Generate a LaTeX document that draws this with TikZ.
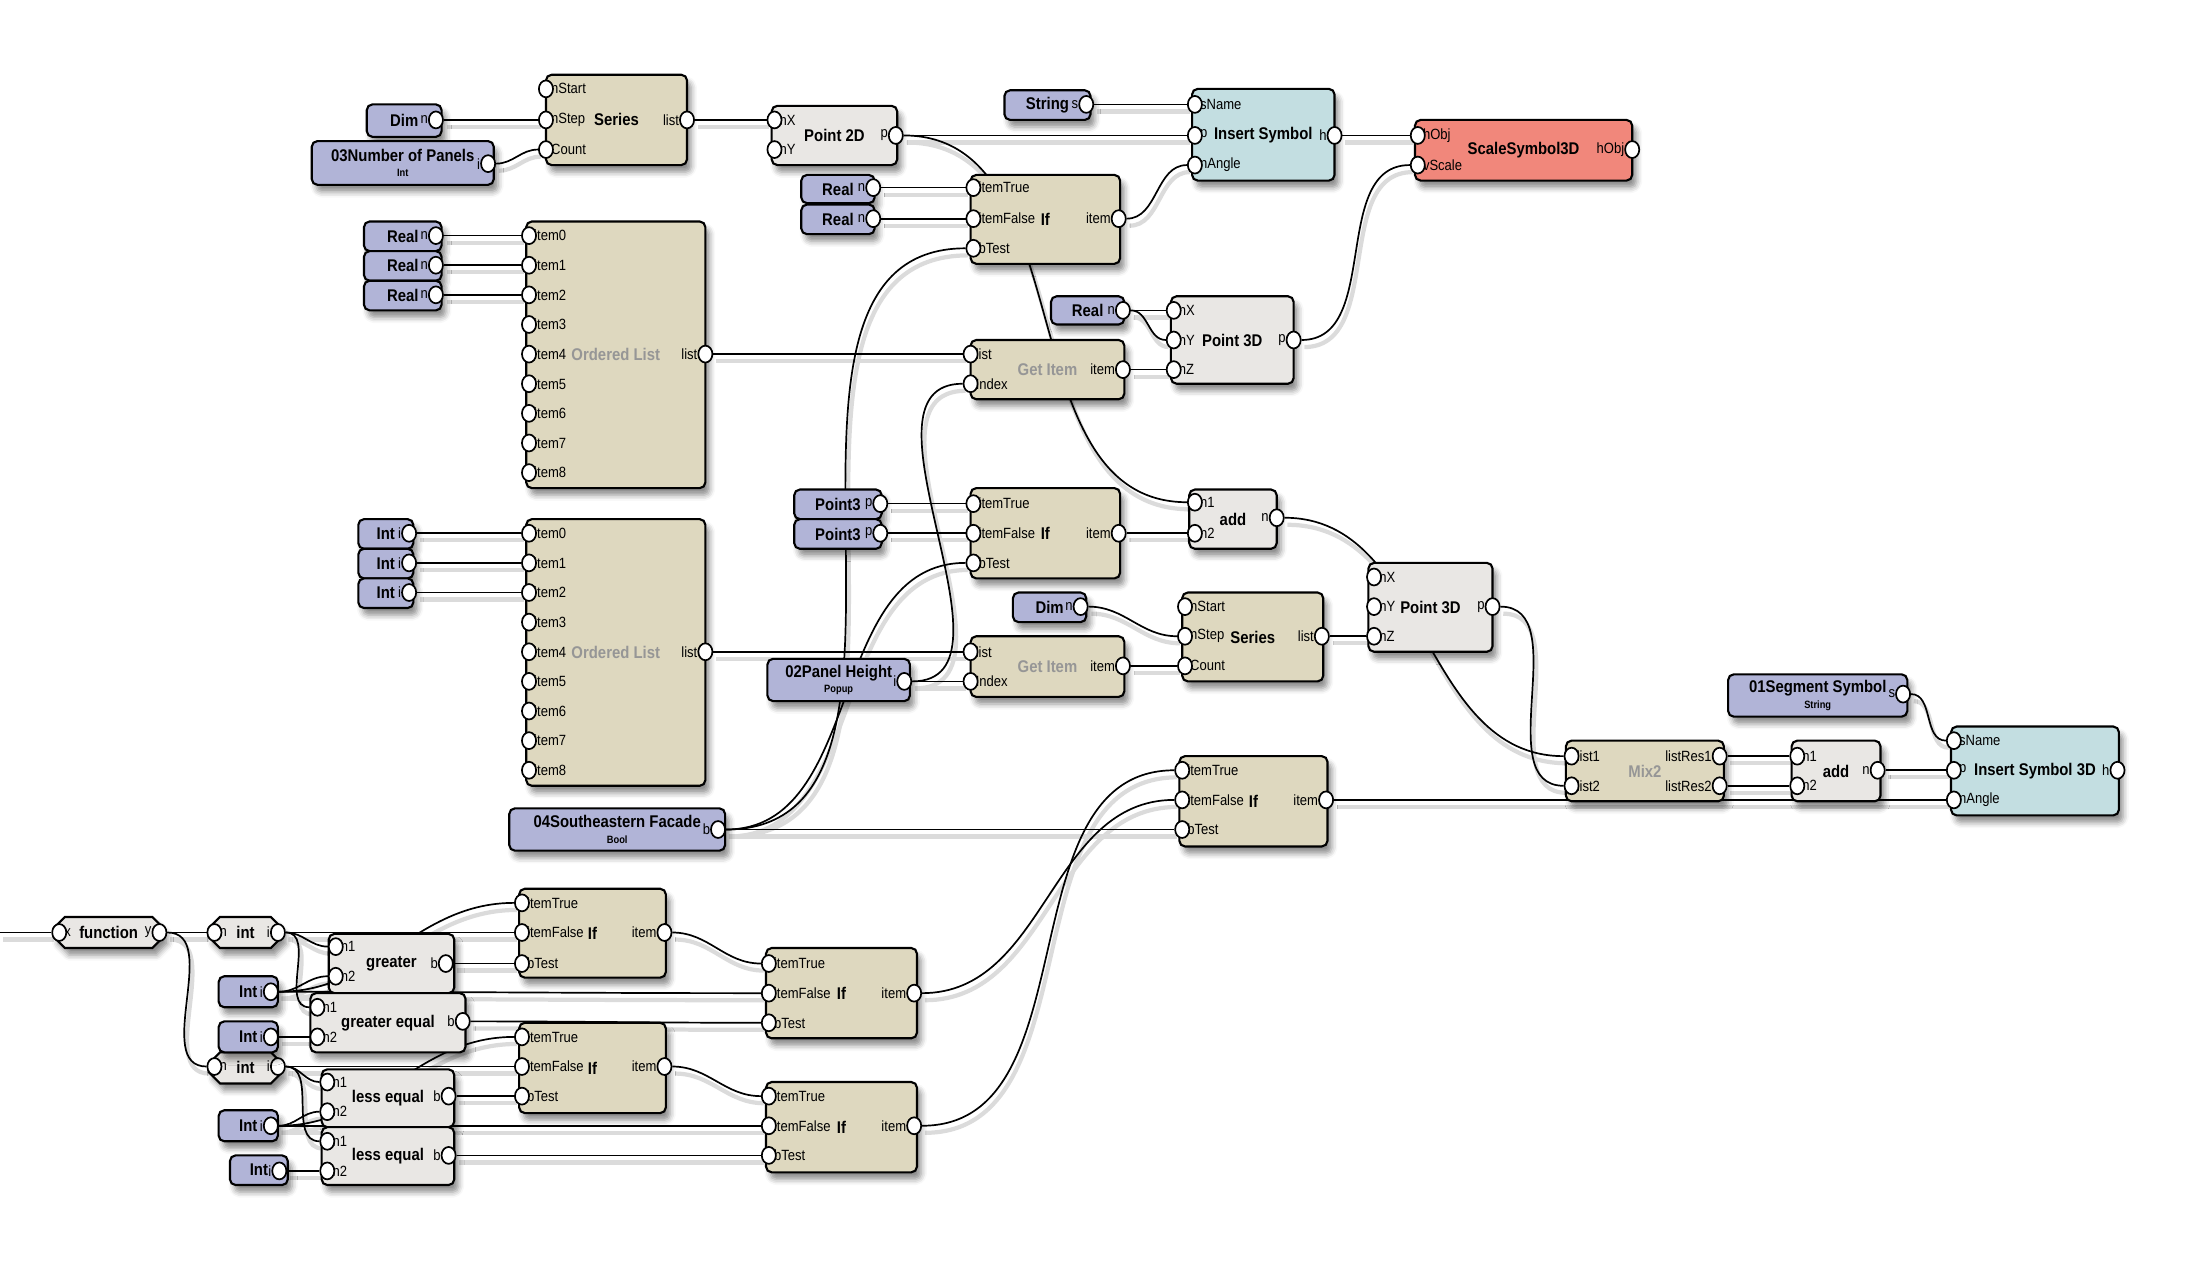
\documentclass[tikz,border=0pt]{standalone}
\usepackage{fontspec}
\setmainfont{Liberation Sans}[FakeStretch=0.88]
\usetikzlibrary{shapes.geometric,shapes.misc,shadows.blur,backgrounds}

\definecolor{tanc}{RGB}{222,216,191}
\definecolor{gryc}{RGB}{233,231,228}
\definecolor{bluc}{RGB}{177,180,215}
\definecolor{cync}{RGB}{195,222,225}
\definecolor{salc}{RGB}{241,135,123}
\definecolor{fadec}{RGB}{150,150,150}

\tikzset{
  box/.style={draw=black, line width=1.5pt, rounded corners=4pt, inner sep=0pt, align=center,
    font=\fontsize{12}{12}\selectfont\bfseries,
    blur shadow={shadow xshift=3pt, shadow yshift=-5pt, shadow blur radius=4pt, shadow opacity=45}},
  tanbox/.style={box, fill=tanc},
  grybox/.style={box, fill=gryc},
  inbox/.style={box, fill=bluc},
  cynbox/.style={box, fill=cync},
  salbox/.style={box, fill=salc},
  chbox/.style={grybox, sharp corners, chamfered rectangle, chamfered rectangle xsep=5pt},
  faded/.style={text=fadec},
  port/.style={ellipse, draw=black, fill=white, line width=1.2pt, minimum width=10pt, minimum height=12pt, inner sep=0pt},
  plbl/.style={font=\fontsize{10.5}{10.5}\selectfont, inner sep=0pt},
  wire/.style={draw=black, line width=1.2pt},
  wshadow/.style={draw=black!14, line width=3pt, transform canvas={shift={(2pt,-5pt)}}}
}

\newcommand\blk[7]{\node[#2, minimum width=#5-#3, minimum height=#6-#4] (#1) at ({(#3+#5)/2},{(#4+#6)/2}) {#7};}
\newcommand\ip[4]{\node[plbl, anchor=west] at (#3+3.5,#4) {#2}; \node[port] (#1-#2) at (#3,#4) {};}
\newcommand\op[4]{\node[plbl, anchor=east] at (#3-5.5,#4) {#2}; \node[port] (#1-#2) at (#3,#4) {};}
\newcommand\sublbl[1]{{\fontsize{7.5}{8}\selectfont #1}}

\def\wirelist{dim1-n/ser1-nStep, nop-i/ser1-Count, ser1-list/pt2-nX, pt2-p/ins-p, pt2-p/add1-n1,
  str1-s/ins-sName, rl1-n/if1-itemTrue, rl2-n/if1-itemFalse, if1-item/ins-nAngle, ins-h/scl-hObj,
  pt3a-p/scl-vScale, rl6-n/pt3a-nX, rl6-n/pt3a-nY, gi1-item/pt3a-nZ,
  rl3-n/ol1-item0, rl4-n/ol1-item1, rl5-n/ol1-item2, ol1-list/gi1-list,
  ph-i/gi1-Index, ph-i/gi2-Index, fac-b/if1-bTest, fac-b/if2-bTest, fac-b/if3-bTest,
  in1-i/ol2-item0, in2-i/ol2-item1, in3-i/ol2-item2, ol2-list/gi2-list,
  pp1-p/if2-itemTrue, pp2-p/if2-itemFalse, if2-item/add1-n2, add1-n/mix-list1,
  dim2-n/ser2-nStep, gi2-item/ser2-Count, ser2-list/pt3b-nZ, pt3b-p/mix-list2,
  mix-listRes1/add2-n1, mix-listRes2/add2-n2, add2-n/ins3-p, seg-s/ins3-sName, if3-item/ins3-nAngle,
  ifc-item/if3-itemFalse, ifd-item/if3-itemTrue,
  lft/fun-x, fun-y/int1-n, fun-y/int2-n,
  int1-i/gt-n1, int1-i/ge-n1, int1-i/ifa-itemFalse,
  iv1-i/gt-n2, iv1-i/ifa-itemTrue, iv1-i/ifc-itemFalse, iv2-i/ge-n2,
  gt-b/ifa-bTest, ge-b/ifc-bTest,
  int2-i/le1-n1, int2-i/le2-n1, int2-i/ifb-itemFalse,
  iv3-i/le1-n2, iv3-i/ifb-itemTrue, iv3-i/ifd-itemFalse, iv4-i/le2-n2,
  le1-b/ifb-bTest, le2-b/ifd-bTest, ifa-item/ifc-itemTrue, ifb-item/ifd-itemTrue}

\begin{document}
\begin{tikzpicture}[x=1pt, y=-1pt]
  \useasboundingbox (0,0) rectangle (1568,906);

  % top row
  \blk{dim1}{inbox}{260}{74}{313}{97}{Dim}
  \op{dim1}{n}{309}{85}
  \blk{nop}{inbox}{221}{100}{350}{131}{03Number of Panels\\[-1pt]\sublbl{Int}}
  \op{nop}{i}{346}{116}
  \blk{ser1}{tanbox}{387}{53}{487}{117}{Series}
  \ip{ser1}{nStart}{387}{63}
  \ip{ser1}{nStep}{387}{85}
  \ip{ser1}{Count}{387}{106}
  \op{ser1}{list}{487}{85}
  \blk{pt2}{grybox}{547}{75}{636}{117}{Point 2D}
  \ip{pt2}{nX}{549}{85}
  \ip{pt2}{nY}{549}{106}
  \op{pt2}{p}{635}{96}
  \blk{str1}{inbox}{712}{64}{773}{85}{String}
  \op{str1}{s}{770}{74}
  \blk{ins}{cynbox}{845}{63}{946}{128}{Insert Symbol}
  \ip{ins}{sName}{847}{74}
  \ip{ins}{p}{847}{96}
  \ip{ins}{nAngle}{847}{117}
  \op{ins}{h}{946}{96}
  \blk{scl}{salbox}{1003}{85}{1157}{128}{ScaleSymbol3D}
  \ip{scl}{hObj}{1005}{96}
  \ip{scl}{vScale}{1005}{117}
  \node[plbl, anchor=east] at (1151.5,106) {hObj};
  \node[port] (scl-out) at (1157,106) {};

  \blk{rl1}{inbox}{568}{124}{620}{144}{Real}
  \op{rl1}{n}{619}{133}
  \blk{rl2}{inbox}{568}{145}{620}{166}{Real}
  \op{rl2}{n}{619}{155}
  \blk{if1}{tanbox}{688}{124}{794}{187}{If}
  \ip{if1}{itemTrue}{690}{133}
  \ip{if1}{itemFalse}{690}{155}
  \ip{if1}{bTest}{690}{176}
  \op{if1}{item}{793}{155}

  \blk{rl3}{inbox}{258}{157}{313}{178}{Real}
  \op{rl3}{n}{309}{167}
  \blk{rl4}{inbox}{258}{178}{313}{199}{Real}
  \op{rl4}{n}{309}{188}
  \blk{rl5}{inbox}{258}{199}{313}{220}{Real}
  \op{rl5}{n}{309}{209}
  \blk{ol1}{tanbox,faded}{373}{157}{500}{346}{Ordered List}
  \foreach \k in {0,...,8} {\ip{ol1}{item\k}{375}{167+21*\k}}
  \op{ol1}{list}{500}{251}

  \blk{rl6}{inbox}{745}{210}{797}{230}{Real}
  \op{rl6}{n}{796}{220}
  \blk{pt3a}{grybox}{830}{210}{917}{272}{Point 3D}
  \ip{pt3a}{nX}{832}{220}
  \ip{pt3a}{nY}{832}{241}
  \ip{pt3a}{nZ}{832}{262}
  \op{pt3a}{p}{917}{241}
  \blk{gi1}{tanbox,faded}{688}{241}{797}{283}{Get Item}
  \ip{gi1}{list}{688}{251}
  \ip{gi1}{Index}{688}{272}
  \op{gi1}{item}{796}{262}

  % middle
  \blk{in1}{inbox}{254}{368}{293}{389}{Int}
  \op{in1}{i}{290}{378}
  \blk{in2}{inbox}{254}{389}{293}{410}{Int}
  \op{in2}{i}{290}{399}
  \blk{in3}{inbox}{254}{410}{293}{431}{Int}
  \op{in3}{i}{290}{420}
  \blk{ol2}{tanbox,faded}{373}{368}{500}{557}{Ordered List}
  \foreach \k in {0,...,8} {\ip{ol2}{item\k}{375}{378+21*\k}}
  \op{ol2}{list}{500}{462}

  \blk{pp1}{inbox}{563}{347}{625}{368}{Point3}
  \op{pp1}{p}{624}{357}
  \blk{pp2}{inbox}{563}{368}{625}{389}{Point3}
  \op{pp2}{p}{624}{378}
  \blk{if2}{tanbox}{688}{346}{794}{410}{If}
  \ip{if2}{itemTrue}{690}{357}
  \ip{if2}{itemFalse}{690}{378}
  \ip{if2}{bTest}{690}{399}
  \op{if2}{item}{793}{378}
  \blk{add1}{grybox}{843}{347}{905}{389}{add}
  \ip{add1}{n1}{847}{356}
  \ip{add1}{n2}{847}{378}
  \op{add1}{n}{905}{367}
  \blk{pt3b}{grybox}{970}{399}{1058}{462}{Point 3D}
  \ip{pt3b}{nX}{974}{409}
  \ip{pt3b}{nY}{974}{430}
  \ip{pt3b}{nZ}{974}{451}
  \op{pt3b}{p}{1058}{430}
  \blk{dim2}{inbox}{718}{420}{770}{441}{Dim}
  \op{dim2}{n}{766}{430}
  \blk{ser2}{tanbox}{838}{420}{938}{483}{Series}
  \ip{ser2}{nStart}{840}{430}
  \ip{ser2}{nStep}{840}{451}
  \ip{ser2}{Count}{840}{472}
  \op{ser2}{list}{937}{451}
  \blk{gi2}{tanbox,faded}{688}{451}{797}{494}{Get Item}
  \ip{gi2}{list}{688}{462}
  \ip{gi2}{Index}{688}{483}
  \op{gi2}{item}{796}{472}
  \blk{ph}{inbox}{544}{467}{645}{497}{02Panel Height\\[-1pt]\sublbl{Popup}}
  \op{ph}{i}{641}{483}
  \blk{fac}{inbox}{361}{573}{514}{603}{04Southeastern Facade\\[-1pt]\sublbl{Bool}}
  \op{fac}{b}{509}{588}

  \blk{seg}{inbox}{1225}{478}{1352}{508}{01Segment Symbol\\[-1pt]\sublbl{String}}
  \op{seg}{s}{1349}{492}
  \blk{mix}{tanbox,faded}{1110}{525}{1222}{568}{Mix2}
  \ip{mix}{list1}{1114}{536}
  \ip{mix}{list2}{1114}{557}
  \op{mix}{listRes1}{1219}{536}
  \op{mix}{listRes2}{1219}{557}
  \blk{add2}{grybox}{1270}{525}{1333}{568}{add}
  \ip{add2}{n1}{1274}{536}
  \ip{add2}{n2}{1274}{557}
  \op{add2}{n}{1331}{546}
  \blk{ins3}{cynbox}{1383}{515}{1502}{578}{Insert Symbol 3D}
  \ip{ins3}{sName}{1385}{525}
  \ip{ins3}{p}{1385}{546}
  \ip{ins3}{nAngle}{1385}{567}
  \op{ins3}{h}{1501}{546}
  \blk{if3}{tanbox}{836}{536}{941}{600}{If}
  \ip{if3}{itemTrue}{838}{546}
  \ip{if3}{itemFalse}{838}{567}
  \ip{if3}{bTest}{838}{588}
  \op{if3}{item}{940}{567}

  % bottom
  \coordinate (lft) at (0,661);
  \blk{fun}{chbox}{38}{650}{116}{672}{function}
  \ip{fun}{x}{42}{661}
  \op{fun}{y}{113}{661}
  \blk{int1}{chbox}{148}{650}{200}{672}{int}
  \ip{int1}{n}{152}{661}
  \op{int1}{i}{197}{661}
  \blk{int2}{chbox}{148}{746}{200}{768}{int}
  \ip{int2}{n}{152}{756}
  \op{int2}{i}{197}{756}
  \blk{iv1}{inbox}{155}{692}{197}{714}{Int}
  \op{iv1}{i}{192}{703}
  \blk{iv2}{inbox}{155}{724}{197}{746}{Int}
  \op{iv2}{i}{192}{735}
  \blk{iv3}{inbox}{155}{787}{197}{809}{Int}
  \op{iv3}{i}{192}{798}
  \blk{iv4}{inbox}{163}{819}{204}{840}{Int}
  \op{iv4}{i}{198}{830}
  \blk{gt}{grybox}{233}{662}{322}{704}{greater}
  \ip{gt}{n1}{238}{671}
  \ip{gt}{n2}{238}{692}
  \op{gt}{b}{316}{683}
  \blk{ge}{grybox}{220}{704}{330}{746}{greater equal}
  \ip{ge}{n1}{225}{714}
  \ip{ge}{n2}{225}{735}
  \op{ge}{b}{328}{724}
  \blk{le1}{grybox}{228}{758}{322}{799}{less equal}
  \ip{le1}{n1}{232}{767}
  \ip{le1}{n2}{232}{788}
  \op{le1}{b}{318}{777}
  \blk{le2}{grybox}{228}{799}{322}{840}{less equal}
  \ip{le2}{n1}{232}{809}
  \ip{le2}{n2}{232}{830}
  \op{le2}{b}{318}{819}
  \blk{ifa}{tanbox}{368}{630}{472}{693}{If}
  \ip{ifa}{itemTrue}{370}{640}
  \ip{ifa}{itemFalse}{370}{661}
  \ip{ifa}{bTest}{370}{683}
  \op{ifa}{item}{471}{661}
  \blk{ifb}{tanbox}{368}{725}{472}{789}{If}
  \ip{ifb}{itemTrue}{370}{735}
  \ip{ifb}{itemFalse}{370}{756}
  \ip{ifb}{bTest}{370}{777}
  \op{ifb}{item}{471}{756}
  \blk{ifc}{tanbox}{543}{672}{650}{736}{If}
  \ip{ifc}{itemTrue}{545}{683}
  \ip{ifc}{itemFalse}{545}{704}
  \ip{ifc}{bTest}{545}{725}
  \op{ifc}{item}{648}{704}
  \blk{ifd}{tanbox}{543}{767}{650}{831}{If}
  \ip{ifd}{itemTrue}{545}{777}
  \ip{ifd}{itemFalse}{545}{798}
  \ip{ifd}{bTest}{545}{819}
  \op{ifd}{item}{648}{798}

  % wires behind the boxes
  \begin{scope}[on background layer]
    \foreach \a/\b in \wirelist {\draw[wshadow] (\a) to[out=0,in=180] (\b);}
    \foreach \a/\b in \wirelist {\draw[wire] (\a) to[out=0,in=180] (\b);}
  \end{scope}
\end{tikzpicture}
\end{document}
